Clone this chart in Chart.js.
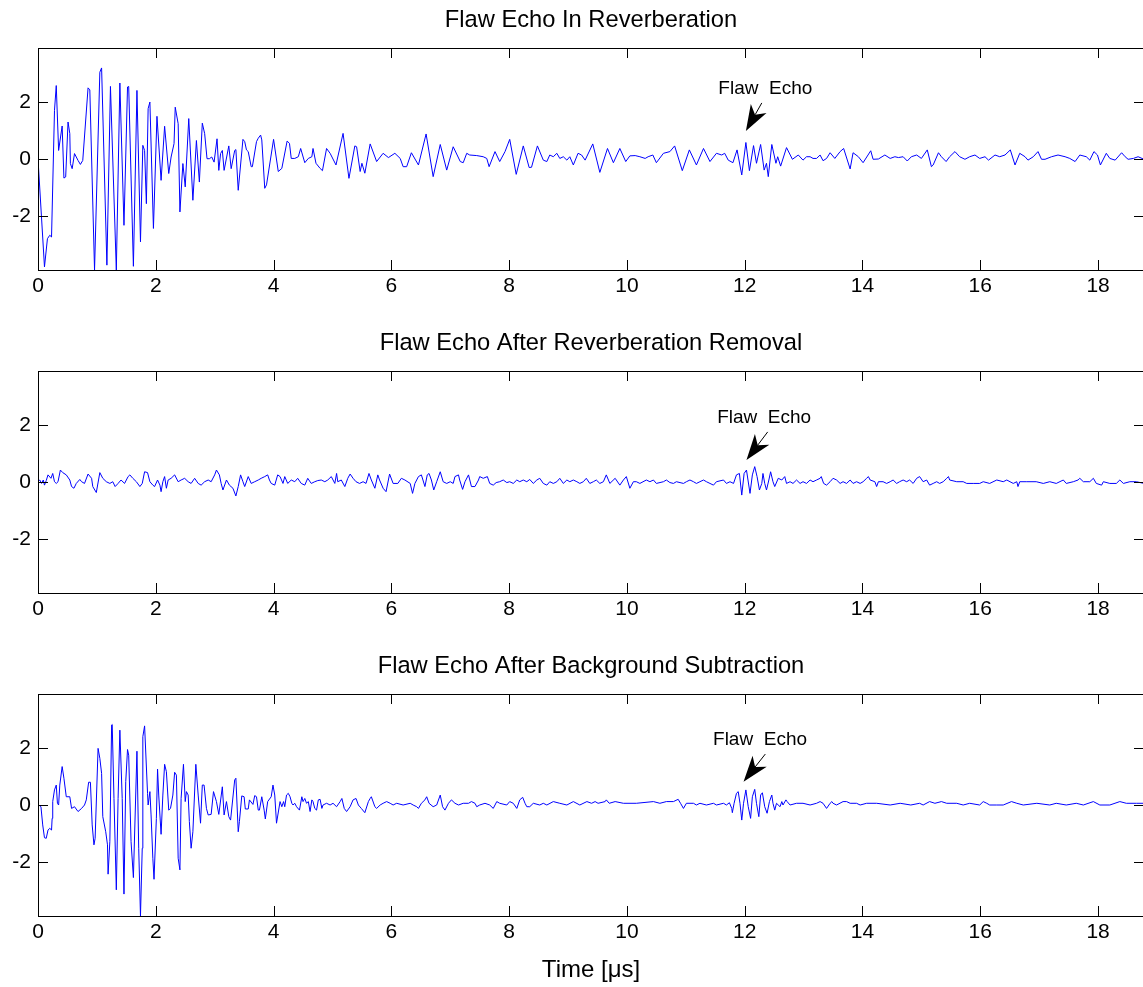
<!DOCTYPE html>
<html>
<head>
<meta charset="utf-8">
<script src="https://cdn.jsdelivr.net/npm/chart.js@4.4.1/dist/chart.umd.min.js"></script>
<style>
  html, body { margin: 0; padding: 0; background: #fff; overflow: hidden; }
  body { width: 1143px; height: 987px; position: relative; }
  canvas { position: absolute; left: 0; }
</style>
</head>
<body>
<canvas id="plotTop" width="1146" height="300" style="top:0px"></canvas>
<canvas id="plotMid" width="1146" height="300" style="top:323px"></canvas>
<canvas id="plotBot" width="1146" height="340" style="top:646px"></canvas>
<script>
// tick labels
var timeTicks = [0, 2, 4, 6, 8, 10, 12, 14, 16, 18];
var ampTicks = [-2, 0, 2];
var timeRange = [0, 18.78];
var ampRange = [-3.9, 3.9];

var titles = ["Flaw Echo In Reverberation", "Flaw Echo After Reverberation Removal", "Flaw Echo After Background Subtraction"];
var noteText = "Flaw  Echo";
var xLabel = "Time [\u03bcs]";

// [time in us, amplitude]
var reverbEcho = [
  [0,0],[0.11,-3.79],[0.16,-2.8],[0.2,-2.68],[0.23,-2.74],[0.28,1.71],[0.31,2.58],[0.35,0.3],[0.41,1.16],[0.44,-0.67],
  [0.47,-0.63],[0.51,1.3],[0.54,0.89],[0.55,-0.16],[0.58,-0.34],[0.62,0.19],[0.68,-0.05],[0.72,-0.19],[0.76,-0.05],[0.85,2.5],
  [0.88,2.43],[0.96,-3.9],[1.05,3.05],[1.08,3.2],[1.17,-3.73],[1.23,2.55],[1.33,-3.9],[1.39,2.67],[1.46,-2.33],[1.52,2.53],
  [1.54,2.55],[1.62,-3.77],[1.68,2.41],[1.74,-2.91],[1.78,0.48],[1.81,0.3],[1.84,-1.57],[1.87,1.77],[1.9,2.0],[1.96,-2.44],
  [2.02,1.5],[2.09,-0.75],[2.15,1.15],[2.22,-0.51],[2.26,0.07],[2.31,0.54],[2.33,1.82],[2.38,1.24],[2.41,-1.86],[2.46,-0.16],
  [2.5,-0.98],[2.56,1.42],[2.63,-1.45],[2.69,0.65],[2.74,-0.81],[2.79,1.26],[2.83,0.89],[2.87,0.01],[2.91,0.01],[2.95,0.07],
  [2.99,-0.11],[3.04,0.71],[3.07,-0.4],[3.1,0.19],[3.13,0.3],[3.16,-0.4],[3.24,0.46],[3.28,-0.34],[3.34,0.3],[3.36,0.33],
  [3.4,-1.1],[3.48,0.69],[3.51,0.61],[3.54,0.32],[3.57,0.26],[3.62,-0.27],[3.64,-0.27],[3.71,0.61],[3.74,0.73],[3.78,0.84],
  [3.8,0.67],[3.85,-1.03],[3.88,-0.91],[4.0,0.69],[4.08,-0.44],[4.14,-0.33],[4.23,0.63],[4.27,0.55],[4.3,0.02],[4.36,0.02],
  [4.42,0.08],[4.46,0.37],[4.53,-0.13],[4.59,0.02],[4.65,0.08],[4.67,0.37],[4.72,-0.15],[4.79,-0.33],[4.83,-0.41],[4.9,0.37],
  [4.96,0.2],[5.06,-0.21],[5.18,0.9],[5.28,-0.68],[5.38,0.46],[5.41,0.43],[5.47,-0.44],[5.5,-0.15],[5.55,-0.5],[5.64,0.53],
  [5.75,-0.09],[5.86,0.2],[5.95,0.05],[6.06,0.2],[6.15,0.02],[6.2,-0.27],[6.26,-0.27],[6.34,0.22],[6.46,-0.21],[6.59,0.88],
  [6.71,-0.62],[6.83,0.51],[6.94,-0.39],[7.05,0.43],[7.17,-0.09],[7.22,-0.13],[7.28,0.2],[7.33,0.14],[7.45,0.12],[7.56,0.08],
  [7.62,0.02],[7.66,-0.27],[7.76,0.26],[7.84,-0.09],[7.93,0.26],[8.01,0.69],[8.12,-0.54],[8.24,0.46],[8.34,-0.3],[8.38,-0.29],
  [8.48,0.46],[8.58,-0.04],[8.64,-0.09],[8.69,0.14],[8.75,0.08],[8.81,0.2],[8.86,0.02],[8.92,0.08],[8.98,-0.04],[9.03,0.08],
  [9.09,-0.21],[9.17,0.2],[9.23,0.14],[9.29,-0.04],[9.42,0.53],[9.54,-0.47],[9.67,0.37],[9.77,-0.13],[9.88,0.37],[9.98,-0.09],
  [10.05,0.11],[10.14,0.12],[10.22,0.08],[10.31,0.02],[10.36,0.08],[10.44,0.14],[10.5,-0.13],[10.62,0.2],[10.73,0.26],[10.81,0.46],
  [10.94,-0.41],[11.06,0.32],[11.18,-0.21],[11.3,0.37],[11.41,-0.09],[11.52,0.2],[11.61,0.14],[11.66,0.2],[11.72,-0.04],[11.8,-0.13],
  [11.87,0.32],[11.95,-0.56],[12.02,0.58],[12.08,-0.41],[12.15,0.47],[12.2,-0.15],[12.27,0.51],[12.33,-0.39],[12.37,-0.15],[12.4,-0.62],
  [12.46,0.51],[12.53,-0.15],[12.56,0.08],[12.61,-0.25],[12.71,0.4],[12.81,-0.01],[12.91,0.14],[12.99,-0.04],[13.05,0.08],[13.11,0.08],
  [13.16,0.02],[13.22,0.02],[13.28,0.14],[13.33,-0.06],[13.39,0.02],[13.45,0.22],[13.53,0.02],[13.62,0.26],[13.68,0.37],[13.79,-0.35],
  [13.84,0.22],[13.93,0.08],[14.01,-0.13],[14.14,0.29],[14.18,-0.01],[14.27,0.0],[14.38,0.14],[14.47,0.02],[14.55,0.08],[14.61,0.05],
  [14.69,0.08],[14.76,-0.07],[14.83,0.08],[14.92,0.14],[15.0,0.02],[15.1,0.32],[15.17,-0.27],[15.2,-0.21],[15.29,0.22],[15.34,0.08],
  [15.42,-0.09],[15.48,0.08],[15.57,0.26],[15.65,0.08],[15.74,-0.01],[15.82,0.08],[15.91,0.14],[15.99,0.02],[16.08,0.08],[16.14,-0.04],
  [16.25,0.14],[16.33,0.08],[16.42,0.14],[16.51,0.32],[16.59,-0.21],[16.67,0.2],[16.76,0.08],[16.81,-0.04],[16.9,0.08],[16.98,0.26],
  [17.04,-0.01],[17.1,-0.01],[17.21,0.08],[17.32,0.14],[17.44,0.08],[17.52,0.02],[17.61,-0.09],[17.69,0.14],[17.8,0.08],[17.86,-0.04],
  [17.93,0.26],[17.99,0.14],[18.04,-0.21],[18.14,0.2],[18.2,0.02],[18.29,-0.04],[18.4,0.22],[18.46,0.08],[18.51,-0.01],[18.6,0.02],
  [18.68,0.08],[18.78,-0.01]
];

var removedEcho = [
  [0,0.01],[0.03,0.07],[0.06,-0.05],[0.09,0.07],[0.11,-0.11],[0.14,0.05],[0.17,0.25],[0.22,0.13],[0.25,0.3],[0.28,0.01],
  [0.31,-0.05],[0.34,0.01],[0.38,0.42],[0.42,0.33],[0.48,0.25],[0.54,0.07],[0.57,-0.16],[0.61,-0.22],[0.65,-0.05],[0.71,0.09],
  [0.74,0.01],[0.79,-0.05],[0.85,0.28],[0.91,0.13],[0.93,-0.16],[0.99,-0.37],[1.05,0.33],[1.1,0.13],[1.16,0.01],[1.22,-0.05],
  [1.27,0.01],[1.31,-0.16],[1.36,-0.05],[1.41,0.07],[1.47,-0.05],[1.53,0.19],[1.56,0.25],[1.61,0.13],[1.67,0.01],[1.73,-0.16],
  [1.77,-0.05],[1.81,0.36],[1.86,0.33],[1.9,0.01],[1.95,-0.11],[1.98,-0.16],[2.03,0.07],[2.07,-0.11],[2.09,-0.34],[2.12,0.01],
  [2.15,0.19],[2.18,-0.22],[2.21,0.07],[2.26,0.13],[2.32,0.25],[2.38,0.01],[2.43,0.07],[2.49,0.13],[2.55,0.01],[2.6,-0.05],
  [2.66,0.13],[2.72,-0.05],[2.77,-0.11],[2.83,0.01],[2.89,0.07],[2.94,0.01],[3.0,0.25],[3.03,0.42],[3.08,0.25],[3.11,-0.05],
  [3.14,-0.28],[3.2,0.07],[3.25,-0.11],[3.31,-0.22],[3.36,-0.49],[3.4,-0.16],[3.44,0.25],[3.48,0.01],[3.51,-0.16],[3.57,0.19],
  [3.62,-0.05],[3.68,0.01],[3.74,0.07],[3.79,0.13],[3.85,0.19],[3.9,0.25],[3.93,0.07],[3.96,-0.05],[4.02,-0.11],[4.07,0.25],
  [4.11,0.19],[4.16,-0.05],[4.19,0.19],[4.24,-0.05],[4.3,0.07],[4.36,0.01],[4.41,0.13],[4.47,-0.05],[4.53,-0.11],[4.58,0.13],
  [4.64,-0.05],[4.7,0.01],[4.75,0.05],[4.81,0.07],[4.87,0.01],[4.92,0.07],[4.98,0.19],[5.04,-0.05],[5.07,0.3],[5.09,0.01],
  [5.15,0.07],[5.21,-0.16],[5.26,0.13],[5.3,0.28],[5.35,0.13],[5.4,0.01],[5.46,-0.05],[5.52,0.01],[5.57,-0.05],[5.62,0.3],
  [5.66,0.07],[5.72,-0.22],[5.77,0.25],[5.8,0.07],[5.86,-0.22],[5.91,-0.34],[5.97,0.28],[6.03,-0.05],[6.11,-0.05],[6.17,0.13],
  [6.23,0.07],[6.32,-0.05],[6.36,-0.4],[6.4,-0.05],[6.46,0.19],[6.51,0.25],[6.57,-0.16],[6.61,0.25],[6.64,0.3],[6.68,0.07],
  [6.72,-0.28],[6.77,0.01],[6.83,0.36],[6.88,0.01],[6.94,-0.05],[7.0,0.01],[7.05,-0.05],[7.08,0.19],[7.14,0.25],[7.16,0.07],
  [7.21,-0.26],[7.25,0.01],[7.31,0.25],[7.36,-0.16],[7.42,-0.16],[7.48,0.07],[7.5,0.19],[7.56,0.13],[7.63,0.19],[7.67,-0.05],
  [7.73,-0.11],[7.78,-0.02],[7.84,0.01],[7.9,0.07],[7.96,-0.02],[8.01,0.01],[8.07,-0.05],[8.13,0.07],[8.18,0.01],[8.24,0.07],
  [8.3,0.01],[8.35,0.09],[8.41,-0.05],[8.47,0.07],[8.52,0.13],[8.58,-0.05],[8.64,-0.11],[8.69,0.01],[8.75,-0.05],[8.81,0.01],
  [8.86,0.13],[8.92,-0.05],[8.98,0.07],[9.03,0.01],[9.09,0.07],[9.15,0.01],[9.2,-0.05],[9.26,0.01],[9.31,0.13],[9.37,-0.05],
  [9.43,0.01],[9.48,0.07],[9.54,-0.05],[9.6,0.01],[9.65,0.25],[9.71,-0.05],[9.8,0.13],[9.82,0.07],[9.88,-0.11],[9.94,0.07],
  [9.99,0.19],[10.05,-0.22],[10.11,0.01],[10.16,0.01],[10.22,-0.05],[10.33,0.07],[10.39,0.01],[10.45,0.07],[10.5,-0.05],[10.62,0.01],
  [10.67,0.07],[10.73,-0.02],[10.79,-0.05],[10.84,0.01],[10.96,-0.05],[11.01,0.01],[11.07,0.07],[11.13,0.01],[11.18,-0.05],[11.24,0.01],
  [11.3,0.07],[11.35,0.01],[11.41,-0.05],[11.47,-0.11],[11.52,0.01],[11.64,0.07],[11.69,-0.05],[11.75,0.01],[11.81,-0.05],[11.86,0.25],
  [11.91,0.3],[11.95,-0.46],[11.99,0.3],[12.03,0.42],[12.09,-0.4],[12.13,0.25],[12.17,0.54],[12.21,0.19],[12.25,-0.28],[12.29,-0.05],
  [12.31,0.3],[12.34,-0.05],[12.37,-0.28],[12.41,0.07],[12.44,0.36],[12.48,0.01],[12.51,-0.16],[12.57,0.13],[12.63,0.07],[12.68,0.19],
  [12.71,-0.05],[12.77,0.01],[12.82,-0.05],[12.88,0.07],[12.94,-0.05],[12.99,0.01],[13.05,-0.05],[13.11,0.07],[13.16,0.01],[13.22,0.07],
  [13.28,0.13],[13.3,0.19],[13.34,-0.05],[13.39,-0.11],[13.45,0.01],[13.5,0.13],[13.56,0.07],[13.62,-0.05],[13.67,0.01],[13.73,-0.05],
  [13.79,0.07],[13.84,-0.05],[13.9,0.01],[13.96,-0.05],[14.01,0.01],[14.07,0.13],[14.1,0.19],[14.13,0.07],[14.21,0.01],[14.24,-0.16],
  [14.27,0.01],[14.35,0.01],[14.41,-0.05],[14.47,0.01],[14.52,0.07],[14.58,-0.05],[14.63,0.01],[14.69,0.07],[14.75,0.01],[14.8,0.07],
  [14.86,-0.05],[14.92,0.13],[14.97,0.19],[15.03,0.01],[15.09,0.07],[15.14,-0.11],[15.2,-0.05],[15.26,0.01],[15.31,-0.05],[15.37,0.01],
  [15.43,0.13],[15.46,0.19],[15.48,0.07],[15.6,0.01],[15.71,0.01],[15.77,-0.05],[15.88,-0.05],[15.99,-0.05],[16.05,0.01],[16.16,-0.05],
  [16.28,0.07],[16.39,0.01],[16.45,0.07],[16.56,-0.05],[16.62,0.01],[16.64,-0.16],[16.67,0.01],[16.79,0.01],[16.95,0.01],[17.07,-0.05],
  [17.18,0.01],[17.29,-0.05],[17.41,0.07],[17.46,-0.05],[17.58,0.01],[17.66,0.07],[17.69,0.13],[17.75,0.01],[17.86,0.01],[17.92,0.13],
  [17.97,-0.05],[18.06,-0.11],[18.09,0.01],[18.2,-0.05],[18.31,-0.05],[18.37,0.07],[18.43,-0.05],[18.54,0.01],[18.65,0.01],[18.78,-0.05]
];

var subtractedEcho = [
  [0,0.02],[0.05,-0.06],[0.08,-0.7],[0.11,-1.15],[0.14,-1.17],[0.17,-0.88],[0.2,-0.82],[0.23,-0.88],[0.24,-0.47],[0.25,0.12],
  [0.28,0.53],[0.31,0.7],[0.33,0.06],[0.35,0.0],[0.37,0.7],[0.41,1.35],[0.44,0.94],[0.48,0.29],[0.54,0.29],[0.57,-0.12],
  [0.62,-0.06],[0.68,-0.23],[0.74,-0.12],[0.79,0.0],[0.82,0.18],[0.86,0.8],[0.89,0.8],[0.92,-0.7],[0.95,-1.4],[0.97,-1.17],
  [1.02,1.99],[1.05,1.64],[1.08,1.11],[1.1,-0.41],[1.15,-0.94],[1.18,-1.4],[1.19,-2.43],[1.22,-1.29],[1.25,2.81],[1.26,2.83],
  [1.29,0.23],[1.33,-2.98],[1.36,0.23],[1.39,2.63],[1.43,0.23],[1.46,-3.13],[1.49,0.82],[1.52,1.95],[1.54,1.75],[1.58,-1.29],
  [1.62,-2.55],[1.68,1.89],[1.71,-1.52],[1.74,-3.9],[1.77,-1.52],[1.78,2.4],[1.81,2.78],[1.86,0.41],[1.87,0.0],[1.9,0.47],
  [1.92,-0.35],[1.95,-1.87],[1.97,-2.61],[2.01,-0.47],[2.03,1.26],[2.05,0.35],[2.09,-1.03],[2.12,0.35],[2.15,1.43],[2.18,1.17],
  [2.22,-0.18],[2.25,-0.12],[2.29,0.35],[2.32,1.15],[2.35,1.05],[2.38,-1.87],[2.41,-2.28],[2.43,0.23],[2.47,1.43],[2.5,0.12],
  [2.52,0.47],[2.55,0.35],[2.57,-0.58],[2.6,-1.52],[2.63,-0.94],[2.68,1.43],[2.72,0.35],[2.76,-0.64],[2.79,0.7],[2.82,0.7],
  [2.86,-0.12],[2.89,-0.35],[2.94,-0.33],[2.98,0.47],[3.03,0.12],[3.07,-0.33],[3.13,0.64],[3.16,-0.35],[3.2,0.12],[3.24,-0.41],
  [3.27,-0.53],[3.34,0.88],[3.36,0.94],[3.4,-0.94],[3.42,-0.58],[3.46,0.32],[3.5,0.29],[3.52,-0.14],[3.57,-0.14],[3.59,0.18],
  [3.65,0.02],[3.68,0.33],[3.71,0.29],[3.74,-0.18],[3.76,-0.18],[3.8,0.29],[3.84,-0.18],[3.86,-0.49],[3.9,0.12],[3.96,0.29],
  [3.99,0.7],[4.02,0.35],[4.05,-0.64],[4.11,0.12],[4.14,-0.06],[4.17,0.12],[4.19,-0.06],[4.22,0.35],[4.25,0.41],[4.28,0.29],
  [4.31,0.06],[4.33,0.0],[4.36,0.06],[4.39,-0.06],[4.44,-0.18],[4.48,0.29],[4.5,0.12],[4.53,0.23],[4.56,0.06],[4.59,0.12],
  [4.62,-0.23],[4.65,0.18],[4.67,0.12],[4.7,-0.12],[4.73,-0.18],[4.76,0.18],[4.79,0.2],[4.82,-0.12],[4.84,0.0],[4.9,0.06],
  [4.96,0.0],[5.01,0.06],[5.07,-0.06],[5.13,0.12],[5.16,0.23],[5.2,-0.12],[5.24,-0.23],[5.3,-0.06],[5.35,0.18],[5.4,0.23],
  [5.44,0.0],[5.49,-0.12],[5.55,-0.27],[5.61,0.12],[5.64,0.23],[5.66,0.29],[5.72,-0.06],[5.75,-0.12],[5.81,0.0],[5.86,0.06],
  [5.92,0.12],[5.98,0.06],[6.03,0.0],[6.09,0.06],[6.2,0.0],[6.32,0.06],[6.37,0.0],[6.43,-0.06],[6.46,-0.12],[6.51,0.06],
  [6.57,0.18],[6.6,0.29],[6.64,0.06],[6.71,-0.06],[6.77,0.0],[6.83,0.35],[6.87,-0.06],[6.91,-0.18],[6.97,0.06],[7.02,0.18],
  [7.08,0.06],[7.14,0.0],[7.22,0.06],[7.31,0.06],[7.36,0.12],[7.42,0.06],[7.45,-0.06],[7.5,0.0],[7.59,0.06],[7.67,0.0],
  [7.73,-0.12],[7.79,0.12],[7.84,0.06],[7.96,0.0],[8.01,0.12],[8.07,0.06],[8.13,-0.12],[8.18,0.18],[8.23,0.27],[8.27,0.06],
  [8.3,-0.06],[8.35,-0.06],[8.41,0.06],[8.52,0.0],[8.58,0.06],[8.64,0.0],[8.75,0.12],[8.86,0.06],[8.98,0.0],[9.09,0.12],
  [9.2,0.0],[9.32,0.12],[9.4,0.06],[9.46,0.12],[9.51,0.06],[9.63,0.12],[9.65,0.18],[9.7,0.06],[9.8,0.12],[9.94,0.06],
  [10.16,0.06],[10.45,0.12],[10.56,0.06],[10.67,0.12],[10.79,0.12],[10.87,0.2],[10.91,0.06],[10.96,-0.12],[11.01,0.06],[11.13,0.06],
  [11.18,0.0],[11.24,0.06],[11.35,0.0],[11.47,0.06],[11.52,0.0],[11.64,0.06],[11.69,0.0],[11.74,0.08],[11.78,-0.12],[11.79,-0.27],
  [11.82,0.06],[11.86,0.41],[11.89,0.47],[11.92,0.06],[11.95,-0.53],[11.98,0.06],[12.02,0.53],[12.06,-0.06],[12.1,-0.47],[12.13,0.29],
  [12.17,0.55],[12.2,0.06],[12.24,-0.41],[12.27,0.35],[12.3,0.43],[12.34,-0.06],[12.38,-0.29],[12.42,0.12],[12.46,0.35],[12.48,0.06],
  [12.51,-0.18],[12.54,0.06],[12.6,-0.06],[12.63,0.12],[12.65,0.0],[12.7,0.18],[12.72,0.12],[12.77,0.0],[12.88,0.06],[12.99,0.06],
  [13.11,0.0],[13.22,0.06],[13.28,0.12],[13.33,0.06],[13.39,-0.12],[13.45,0.06],[13.48,0.12],[13.5,0.06],[13.56,0.0],[13.67,0.12],
  [13.73,0.12],[13.79,0.06],[13.9,0.06],[13.96,0.0],[14.07,0.06],[14.24,0.06],[14.47,0.0],[14.64,0.06],[14.82,0.0],[14.97,0.06],
  [15.03,0.0],[15.14,0.12],[15.23,0.06],[15.34,0.12],[15.43,0.06],[15.6,0.06],[15.71,0.0],[15.82,0.06],[15.99,0.0],[16.05,0.12],
  [16.11,0.06],[16.16,0.0],[16.28,0.0],[16.39,0.0],[16.53,0.12],[16.62,0.06],[16.73,0.0],[16.96,0.06],[17.18,0.0],[17.29,0.06],
  [17.46,0.0],[17.63,0.06],[17.75,0.0],[17.92,0.12],[18.03,0.0],[18.2,0.0],[18.37,0.12],[18.48,0.06],[18.65,0.06],[18.78,0.06]
];

// where the "Flaw Echo" note and its arrow sit, in data units
var notes = [
  { text: [12.35, 2.46], tail: [12.29, 1.97], tip: [12.02, 0.98] },
  { text: [12.33, 2.25], tail: [12.39, 1.76], tip: [12.03, 0.77] },
  { text: [12.26, 2.28], tail: [12.35, 1.79], tip: [11.98, 0.82] }
];

var FONT = "Arial, 'Liberation Sans', Helvetica, sans-serif";
var TICK = 10;

// box, inward ticks, centred title and the note with its arrow
var framePlugin = {
  id: 'frame',
  afterDraw: function (chart, args, opts) {
    var ctx = chart.ctx, a = chart.chartArea;
    var xs = chart.scales.x, ys = chart.scales.y;
    ctx.save();
    ctx.strokeStyle = '#000';
    ctx.lineWidth = 1;
    ctx.beginPath();
    xs.ticks.forEach(function (t) {
      var px = Math.round(xs.getPixelForValue(t.value)) + 0.5;
      ctx.moveTo(px, a.bottom); ctx.lineTo(px, a.bottom - TICK);
      ctx.moveTo(px, a.top); ctx.lineTo(px, a.top + TICK);
    });
    ys.ticks.forEach(function (t) {
      var py = Math.round(ys.getPixelForValue(t.value)) + 0.5;
      ctx.moveTo(a.left, py); ctx.lineTo(a.left + TICK, py);
      ctx.moveTo(a.right, py); ctx.lineTo(a.right - TICK, py);
    });
    ctx.stroke();
    ctx.strokeRect(Math.round(a.left) + 0.5, Math.round(a.top) + 0.5,
                   Math.round(a.right - a.left), Math.round(a.bottom - a.top));

    ctx.fillStyle = '#000';
    ctx.textAlign = 'center';
    ctx.textBaseline = 'middle';
    ctx.font = '23.7px ' + FONT;
    ctx.fillText(opts.title, (a.left + a.right) / 2, a.top - 27.5);

    var n = opts.note;
    if (n) {
      var tip = { x: xs.getPixelForValue(n.tip[0]), y: ys.getPixelForValue(n.tip[1]) };
      var tail = { x: xs.getPixelForValue(n.tail[0]), y: ys.getPixelForValue(n.tail[1]) };
      var dx = tail.x - tip.x, dy = tail.y - tip.y, len = Math.hypot(dx, dy);
      var ux = dx / len, uy = dy / len, nx = -uy, ny = ux;
      var L = 26, W = 9;
      var bx = tip.x + ux * L, by = tip.y + uy * L;
      var mx = tip.x + ux * L * 0.72, my = tip.y + uy * L * 0.72;
      ctx.beginPath();
      ctx.moveTo(tail.x, tail.y); ctx.lineTo(mx, my);
      ctx.stroke();
      ctx.beginPath();
      ctx.moveTo(tip.x, tip.y);
      ctx.lineTo(bx + nx * W, by + ny * W);
      ctx.lineTo(mx, my);
      ctx.lineTo(bx - nx * W, by - ny * W);
      ctx.closePath();
      ctx.fill();
      ctx.font = '19px ' + FONT;
      ctx.fillText(noteText, xs.getPixelForValue(n.text[0]), ys.getPixelForValue(n.text[1]));
    }
    ctx.restore();
  }
};

function makePlot(id, series, title, note, withLabel) {
  var ctx = document.getElementById(id);
  return new Chart(ctx, {
    type: 'line',
    data: {
      datasets: [{
        data: series.map(function (p) { return { x: p[0], y: p[1] }; }),
        borderColor: '#0000ff',
        borderWidth: 1,
        pointRadius: 0,
        tension: 0,
        fill: false
      }]
    },
    options: {
      responsive: false,
      animation: false,
      devicePixelRatio: 1,
      layout: { padding: { left: 0, right: 2, top: 48, bottom: 0 } },
      plugins: {
        legend: { display: false },
        tooltip: { enabled: false },
        title: { display: false },
        frame: { note: note, title: title }
      },
      scales: {
        x: {
          type: 'linear',
          min: timeRange[0],
          max: timeRange[1],
          afterBuildTicks: function (s) { s.ticks = timeTicks.map(function (v) { return { value: v }; }); },
          afterFit: function (s) { s.height = withLabel ? 70 : 30; },
          grid: { display: false, drawTicks: false },
          border: { display: false },
          ticks: { color: '#000', font: { family: FONT, size: 21 }, padding: 4, maxRotation: 0 },
          title: {
            display: withLabel,
            text: xLabel,
            color: '#000',
            font: { family: FONT, size: 24 },
            padding: { top: 0, bottom: 1 }
          }
        },
        y: {
          min: ampRange[0],
          max: ampRange[1],
          afterBuildTicks: function (s) { s.ticks = ampTicks.map(function (v) { return { value: v }; }); },
          afterFit: function (s) { s.width = 38; },
          grid: { display: false, drawTicks: false },
          border: { display: false },
          ticks: { color: '#000', font: { family: FONT, size: 21 }, padding: 7 }
        }
      }
    },
    plugins: [framePlugin]
  });
}

makePlot('plotTop', reverbEcho, titles[0], notes[0], false);
makePlot('plotMid', removedEcho, titles[1], notes[1], false);
makePlot('plotBot', subtractedEcho, titles[2], notes[2], true);
</script>
</body>
</html>
